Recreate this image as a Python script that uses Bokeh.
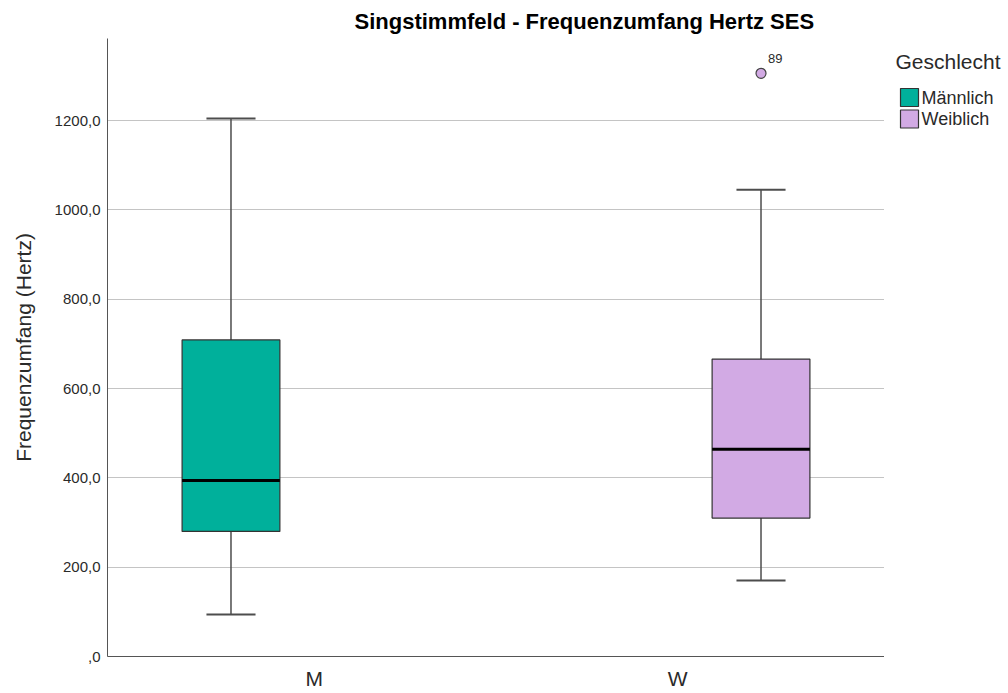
from bokeh.plotting import figure
from bokeh.layouts import row
from bokeh.models import (FactorRange, Range1d, ColumnDataSource, Title, FixedTicker)
from bokeh.transform import dodge
from bokeh.core.properties import value
from bokeh.embed import file_html
from bokeh.resources import INLINE

# ---- data ----
categories = ["M", "W"]
genders = ["Männlich", "Weiblich"]
whisker_low = [94, 170]
q1 = [280, 310]
median = [394, 464]
q3 = [709, 666]
whisker_high = [1205, 1045]
outlier_cat = ["W"]
outlier_val = [1306]
outlier_lbl = ["89"]
y_ticks = [0, 200, 400, 600, 800, 1000, 1200]
y_tick_labels = [",0", "200,0", "400,0", "600,0", "800,0", "1000,0", "1200,0"]
legend_title = "Geschlecht"

colors = ["#00b09b", "#d2aae4"]
offsets = [-0.229, 0.229]
BOX_W = 0.269
CAP_W = 0.135
FONT = "Liberation Sans"
TXT = "#2a2a2a"

p = figure(x_range=FactorRange(factors=categories, range_padding=0.0687),
           y_range=Range1d(0, 1384),
           width=884, height=693, output_backend="svg", toolbar_location=None,
           min_border_left=107, min_border_right=0, min_border_top=38,
           min_border_bottom=37)

p.outline_line_alpha = 0
p.background_fill_color = "white"
p.border_fill_color = "white"

# grid
p.xgrid.grid_line_color = None
p.ygrid.grid_line_color = "#c4c4c4"
p.ygrid.grid_line_width = 1
p.yaxis.ticker = FixedTicker(ticks=y_ticks)
p.yaxis.major_label_overrides = {t: l for t, l in zip(y_ticks, y_tick_labels)}

# axes
for ax in (p.xaxis[0], p.yaxis[0]):
    ax.axis_line_color = "#555555"
    ax.axis_line_width = 1
    ax.major_tick_line_color = None
    ax.minor_tick_line_color = None
    ax.major_tick_out = 0
    ax.major_tick_in = 0
    ax.major_label_text_font = FONT
    ax.major_label_text_color = TXT
    ax.axis_label_text_font = FONT
    ax.axis_label_text_font_style = "normal"
    ax.axis_label_text_color = TXT

p.yaxis.major_label_text_font_size = "15px"
p.yaxis.major_label_standoff = 7
p.yaxis.axis_label = "Frequenzumfang (Hertz)"
p.yaxis.axis_label_text_font_size = "21px"
p.yaxis.axis_label_standoff = 17

p.xaxis.major_label_text_font_size = "21px"
p.xaxis.major_label_standoff = 10

# boxes
for i in range(len(categories)):
    src = ColumnDataSource(dict(cat=[categories[i]], lo=[whisker_low[i]], q1=[q1[i]],
                                med=[median[i]], q3=[q3[i]], hi=[whisker_high[i]]))
    off = offsets[i]
    xr = p.x_range
    # whiskers
    p.segment(x0=dodge("cat", off, range=xr), x1=dodge("cat", off, range=xr),
              y0="q3", y1="hi", source=src, line_color="#4d4d4d", line_width=1.5)
    p.segment(x0=dodge("cat", off, range=xr), x1=dodge("cat", off, range=xr),
              y0="lo", y1="q1", source=src, line_color="#4d4d4d", line_width=1.5)
    # caps
    p.segment(x0=dodge("cat", off - CAP_W / 2, range=xr), x1=dodge("cat", off + CAP_W / 2, range=xr),
              y0="hi", y1="hi", source=src, line_color="#4d4d4d", line_width=2)
    p.segment(x0=dodge("cat", off - CAP_W / 2, range=xr), x1=dodge("cat", off + CAP_W / 2, range=xr),
              y0="lo", y1="lo", source=src, line_color="#4d4d4d", line_width=2)
    # box
    p.vbar(x=dodge("cat", off, range=xr), width=BOX_W, bottom="q1", top="q3",
           source=src, fill_color=colors[i], line_color="#333333", line_width=1.2)
    # median
    p.segment(x0=dodge("cat", off - BOX_W / 2, range=xr), x1=dodge("cat", off + BOX_W / 2, range=xr),
              y0="med", y1="med", source=src, line_color="#000000", line_width=3)

# outlier
osrc = ColumnDataSource(dict(cat=outlier_cat, val=outlier_val, lbl=outlier_lbl))
p.scatter(x=dodge("cat", offsets[1], range=p.x_range), y="val", source=osrc, size=10,
          fill_color=colors[1], line_color="#444444", line_width=1.2)
p.text(x=dodge("cat", offsets[1], range=p.x_range), y="val", text="lbl", source=osrc,
       x_offset=7, y_offset=-15, text_font=value(FONT), text_font_size="13px",
       text_color=TXT, text_baseline="middle", text_align="left")

# title
p.title = Title(text="Singstimmfeld - Frequenzumfang Hertz SES", align="left", offset=247,
                text_font=FONT, text_font_size="22px", text_font_style="bold",
                text_color="#000000")

# ---- legend panel: small figure to the right; its frame is aligned with the
# main plot's frame (38..656 px), so its y range is given in page pixels (top-down) ----
lg = figure(width=124, height=693, output_backend="svg", toolbar_location=None,
            x_range=Range1d(0, 124), y_range=Range1d(656, 38),
            min_border=0, x_axis_type=None, y_axis_type=None)
lg.outline_line_alpha = 0
lg.xgrid.visible = False
lg.ygrid.visible = False

n = len(genders)
item_y = [97 + 21.5 * i for i in range(n)]
lsrc = ColumnDataSource(dict(label=genders, color=colors, y=item_y,
                             sx=[25] * n, tx=[37] * n))
lg.rect(x="sx", y="y", width=18, height=18, source=lsrc, fill_color="color",
        line_color="#333333", line_width=1.2)
lg.text(x="tx", y="y", text="label", source=lsrc, text_font=value(FONT),
        text_font_size="18px", text_color=TXT, text_baseline="middle", text_align="left")
tsrc = ColumnDataSource(dict(x=[11], y=[61], t=[legend_title]))
lg.text(x="x", y="y", text="t", source=tsrc, text_font=value(FONT),
        text_font_size="21px", text_color=TXT, text_baseline="middle", text_align="left")

open("out.html", "w").write(file_html(row(p, lg), INLINE))
